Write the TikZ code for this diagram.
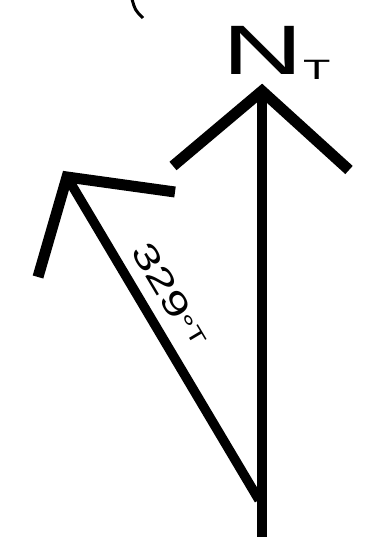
\documentclass[tikz,border=0pt]{standalone}
\usepackage{fontspec}
\setmainfont{Liberation Sans}
\usepackage{graphicx}
\usetikzlibrary{calc}
\definecolor{ink}{HTML}{000000}
\tikzset{
  shaft/.style={
    draw=#1, line width=9.5pt, line cap=butt
  },
  shaft/.default=ink,
  barb/.style={
    draw=#1, line width=11pt, line join=miter, miter limit=20
  },
  barb/.default=ink,
  bearinglabel/.style={
    font=\fontsize{34}{36}\selectfont, color=ink, inner sep=0pt
  },
  northlabel/.style={
    font=\fontsize{70}{72}\selectfont, color=ink, inner sep=0pt
  },
}

\begin{document}
\begin{tikzpicture}[x=1pt,y=-1pt]
  \useasboundingbox (0,0) rectangle (388,553);

  % true north arrow
  \coordinate (ntip)   at (262,91);
  \coordinate (nfoot)  at (262,537);
  \coordinate (nleft)  at (173,166);
  \coordinate (nright) at (349,170);
  \draw[shaft] (ntip) -- (nfoot);
  \draw[barb] (nleft) -- (ntip) -- (nright);

  \node[northlabel, anchor=base west] (ntrue) at (222,75)
    {\scalebox{1.6}[1]{N\raisebox{-5pt}{\fontsize{28}{28}\selectfont T}}};

  % bearing arrow
  \coordinate (btip)   at (67,177);
  \coordinate (bfoot)  at (259,500);
  \coordinate (bleft)  at (38,277);
  \coordinate (bright) at (175,192);
  \draw[shaft] (btip) -- (bfoot);
  \draw[barb] (bleft) -- (btip) -- (bright);

  \path (btip) -- (bfoot)
    node[bearinglabel, pos=0.41, sloped, above=16pt] (bearing)
    {\scalebox{1.45}[1]{329{\fontsize{26}{26}\selectfont °}\raisebox{6pt}{\fontsize{21}{21}\selectfont T}}};

  % piece of the compass ring
  \coordinate (ringa) at (132,-1);
  \coordinate (ringb) at (143,18);
  \draw[ink, line width=3pt] (ringa) .. controls (135,10) .. (ringb);
\end{tikzpicture}
\end{document}
